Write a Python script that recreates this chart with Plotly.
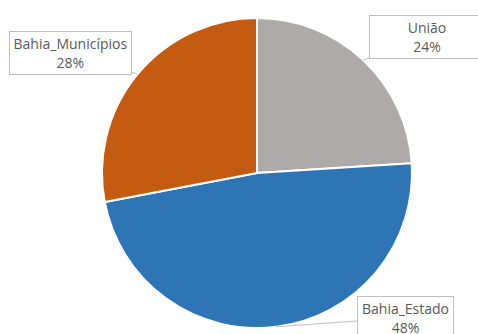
import math
import plotly.graph_objects as go

# Distribution of resources by sphere
labels = ["União", "Bahia_Estado", "Bahia_Municípios"]
values = [24, 48, 28]
colors = ["#ADAAA9", "#2E75B6", "#C55A11"]

W, H = 478, 334
cx, cy, r = 257, 173, 155  # pie centre / radius in pixels

fig = go.Figure(go.Pie(
    labels=labels,
    values=values,
    sort=False,
    direction="clockwise",
    rotation=0,
    textinfo="none",
    hoverinfo="label+percent",
    marker=dict(colors=colors, line=dict(color="white", width=2)),
    domain=dict(x=[(cx - r) / W, (cx + r) / W],
                y=[(H - cy - r) / H, (H - cy + r) / H]),
    showlegend=False,
))

# Callout box centres (pixels) and sizes
box_centres = [(427, 36.5), (405.5, 317.5), (70.5, 52.5)]
box_widths = [110, 91, 117]

total = sum(values)
start = 0.0
annotations = []
for lab, val, (bx, by), bw in zip(labels, values, box_centres, box_widths):
    mid = start + val / total * 360 / 2
    start += val / total * 360
    tx = cx + r * math.sin(math.radians(mid))
    ty = cy - r * math.cos(math.radians(mid))
    annotations.append(dict(
        x=tx / W, y=1 - ty / H, xref="paper", yref="paper",
        text=f"{lab}<br>{round(val / total * 100)}%",
        showarrow=True, arrowhead=0, arrowwidth=1, arrowcolor="#BFBFBF",
        ax=bx - tx, ay=by - ty,
        bgcolor="white", bordercolor="#BFBFBF", borderwidth=1, borderpad=2,
        width=bw, height=38,
        font=dict(family="Open Sans", size=14, color="#595959"),
        align="center",
    ))

fig.update_layout(
    width=W, height=H,
    margin=dict(l=0, r=0, t=0, b=0),
    paper_bgcolor="white",
    plot_bgcolor="white",
    annotations=annotations,
)

fig.write_html("out.html")
